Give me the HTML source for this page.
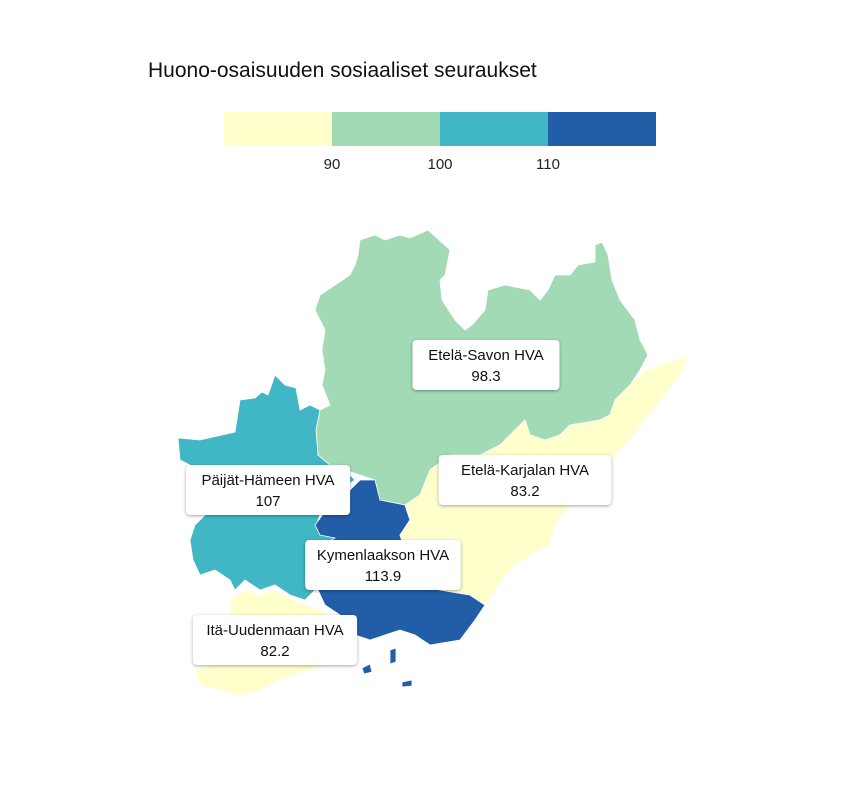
<!DOCTYPE html>
<html><head><meta charset="utf-8">
<style>
body{margin:0;background:#fff;font-family:"Liberation Sans",sans-serif;}
svg{display:block}
</style></head>
<body>
<svg id="chart" width="864" height="792" viewBox="0 0 864 792">
<text x="148" y="77" font-size="21" fill="#111">Huono-osaisuuden sosiaaliset seuraukset</text>
<g id="legend"></g>
<g id="regions"></g>
<g id="labels"></g>
</svg>
<script>
const regionNames = ["Etelä-Savon HVA","Päijät-Hämeen HVA","Kymenlaakson HVA","Etelä-Karjalan HVA","Itä-Uudenmaan HVA"];
const regionValues = [98.3, 107, 113.9, 83.2, 82.2];
const thresholds = [90, 100, 110];
const colors = ["#ffffcc","#a1dab4","#41b6c4","#225ea8"];

const shapes = [
"M360,240 L375,235 L385,240 L400,235 L410,238 L428,230 L450,250 L445,275 L440,280 L442,300 L455,320 L465,330 L472,325 L485,310 L488,290 L505,285 L530,290 L540,300 L548,290 L555,275 L570,275 L578,265 L595,262 L595,245 L602,242 L608,255 L612,280 L620,300 L635,320 L640,340 L648,355 L640,370 L630,385 L615,400 L610,415 L600,420 L570,425 L560,435 L545,440 L530,435 L525,420 L515,430 L500,445 L480,455 L450,455 L430,470 L420,495 L405,505 L380,505 L375,480 L360,475 L345,470 L330,465 L318,455 L316,430 L320,410 L330,405 L322,385 L325,370 L322,350 L325,330 L315,310 L320,295 L335,285 L350,275 L355,265 L358,255 Z",
"M178,438 L200,440 L235,432 L240,400 L255,398 L262,392 L268,395 L275,375 L285,385 L296,388 L300,410 L310,405 L320,410 L316,430 L318,455 L330,465 L345,470 L355,480 L340,490 L325,500 L318,520 L330,535 L340,540 L322,545 L318,575 L315,590 L305,600 L290,595 L275,585 L260,590 L245,580 L235,590 L230,580 L215,570 L200,575 L193,560 L190,540 L195,525 L205,515 L200,495 L188,490 L190,465 L180,460 Z",
"M315,525 L330,505 L350,490 L360,480 L375,480 L380,500 L405,505 L410,520 L400,535 L405,550 L410,580 L440,590 L470,595 L485,605 L475,620 L460,640 L430,645 L415,635 L400,630 L385,635 L370,640 L355,635 L340,615 L325,605 L318,590 L320,560 L322,545 L335,538 L320,535 Z M362,668 L370,664 L372,672 L364,674 Z M390,650 L396,648 L396,662 L390,664 Z M402,682 L412,680 L412,686 L402,687 Z",
"M430,470 L450,455 L480,455 L500,445 L515,430 L525,420 L530,435 L545,440 L560,435 L570,425 L600,420 L610,415 L615,400 L630,385 L645,370 L690,355 L680,375 L665,395 L645,420 L630,440 L610,460 L595,480 L570,505 L555,525 L550,545 L530,555 L510,570 L495,590 L485,605 L470,595 L440,590 L410,580 L405,550 L400,535 L410,520 L405,505 L420,495 Z",
"M230,600 L245,590 L260,595 L275,590 L290,598 L305,605 L320,610 L330,615 L340,620 L350,640 L345,660 L330,665 L310,670 L280,680 L260,690 L240,695 L220,690 L200,685 L195,670 L210,665 L230,655 L240,630 L230,615 Z"
];
const labelPos = [[486,365],[268,490],[383,565],[525,480],[275,640]];

const NS="http://www.w3.org/2000/svg";
function colorFor(v){let i=0;while(i<thresholds.length&&v>=thresholds[i])i++;return colors[i];}
const lx0=224, segW=108, ly=112, lh=34;
function lx(i){return lx0+i*segW;}
const legend=document.getElementById('legend');
colors.forEach((c,i)=>{
  const r=document.createElementNS(NS,'rect');
  r.setAttribute('x',lx(i));r.setAttribute('y',ly);r.setAttribute('width',segW);r.setAttribute('height',lh);r.setAttribute('fill',c);
  
  
  legend.appendChild(r);
});
thresholds.forEach((t,i)=>{
  const tx=document.createElementNS(NS,'text');
  tx.setAttribute('x',lx(i+1));tx.setAttribute('y',169);tx.setAttribute('text-anchor','middle');tx.setAttribute('font-size','15');tx.setAttribute('fill','#222');
  tx.textContent=t;
  
  
  legend.appendChild(tx);
});
const reg=document.getElementById('regions'), lab=document.getElementById('labels');
regionNames.forEach((n,i)=>{
  const p=document.createElementNS(NS,'path');
  p.setAttribute('d',shapes[i]);p.setAttribute('fill',colorFor(regionValues[i]));p.setAttribute('stroke','#fff');p.setAttribute('stroke-width','0.8');
  
  
  reg.appendChild(p);
});
regionNames.forEach((n,i)=>{
  const [cx,cy]=labelPos[i];
  const w=n.length*8.6+18;
  const g=document.createElementNS(NS,'g');
  
  
  const r=document.createElementNS(NS,'rect');
  r.setAttribute('x',cx-w/2);r.setAttribute('y',cy-25);r.setAttribute('width',w);r.setAttribute('height',50);r.setAttribute('rx',4);r.setAttribute('fill','#fff');
  r.setAttribute('style','filter:drop-shadow(0 1px 1.5px rgba(0,0,0,0.35))');
  g.appendChild(r);
  [[n,-5],[String(regionValues[i]),16]].forEach(([s,dy])=>{
    const t=document.createElementNS(NS,'text');
    t.setAttribute('x',cx);t.setAttribute('y',cy+dy);t.setAttribute('text-anchor','middle');t.setAttribute('font-size','15');t.setAttribute('fill','#111');
    t.textContent=s;g.appendChild(t);
  });
  lab.appendChild(g);
});
</script>
</body></html>
